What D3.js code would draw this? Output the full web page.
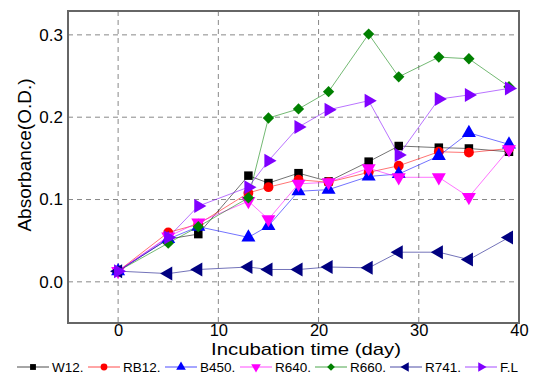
<!DOCTYPE html>
<html>
<head>
<meta charset="utf-8">
<script src="https://cdn.jsdelivr.net/npm/d3@7"></script>
<style>
  body { margin: 0; background: #fff; }
  text { font-family: "Liberation Sans", Arial, sans-serif; }
</style>
</head>
<body>
<svg width="539" height="376"></svg>
<script>
/* data */
var days = [0, 5, 8, 13, 15, 18, 21, 25, 28, 32, 35, 39]

var w12  = [0.013, 0.052, 0.058, 0.129, 0.120, 0.132, 0.122, 0.146, 0.165, 0.163, 0.162, 0.158]
var rb12 = [0.013, 0.060, 0.070, 0.108, 0.115, 0.124, 0.121, 0.133, 0.141, 0.158, 0.157, 0.162]
var b450 = [0.013, 0.052, 0.067, 0.054, 0.068, 0.110, 0.112, 0.128, 0.131, 0.153, 0.181, 0.167]
var r640 = [0.013, 0.055, 0.072, 0.098, 0.076, 0.119, 0.121, 0.138, 0.127, 0.127, 0.103, 0.161]
var r660 = [0.013, 0.047, 0.067, 0.102, 0.199, 0.210, 0.231, 0.301, 0.249, 0.273, 0.271, 0.237]
var r741 = [0.013, 0.010, 0.015, 0.018, 0.015, 0.015, 0.018, 0.017, 0.036, 0.036, 0.027, 0.054]
var fl   = [0.013, 0.054, 0.092, 0.115, 0.147, 0.188, 0.209, 0.220, 0.154, 0.222, 0.227, 0.235]

var names  = ["W12.", "RB12.", "B450.", "R640.", "R660.", "R741.", "F.L"]
var values = [w12, rb12, b450, r640, r660, r741, fl]
var colors = ["#000000", "#ff0000", "#0000ff", "#ff00ff", "#008000", "#000080", "#8000ff"]
var shapes = ["square", "circle", "up", "down", "diamond", "left", "right"]

var xTicks = [0, 10, 20, 30, 40]
var yTicks = [0.0, 0.1, 0.2, 0.3]

/* layout */
var left = 68, top_ = 11, right = 519, bottom = 323

var x = d3.scaleLinear().domain([-5, 40]).range([left, right])
var y = d3.scaleLinear().domain([-0.05, 0.329]).range([bottom, top_])

var svg = d3.select("svg")

/* grid */
svg.append("g")
    .selectAll("line")
    .data(xTicks)
    .enter()
    .append("line")
    .attr("x1", function(d){ return x(d) })
    .attr("x2", function(d){ return x(d) })
    .attr("y1", top_)
    .attr("y2", bottom)
    .attr("stroke", "#888")
    .attr("stroke-dasharray", "5,4")

svg.append("g")
    .selectAll("line")
    .data(yTicks)
    .enter()
    .append("line")
    .attr("x1", left)
    .attr("x2", right)
    .attr("y1", function(d){ return y(d) })
    .attr("y2", function(d){ return y(d) })
    .attr("stroke", "#888")
    .attr("stroke-dasharray", "5,4")

/* axes (labels only, no tick marks) */
var xAxis = svg.append("g")
    .attr("transform", "translate(0," + bottom + ")")
    .call(d3.axisBottom(x).tickValues(xTicks).tickSize(0).tickPadding(1).tickFormat(d3.format("d")))
xAxis.select(".domain").remove()
xAxis.selectAll("text").attr("font-size", 16.5).attr("fill", "#000")
    .attr("font-family", "Liberation Sans, Arial, sans-serif")

var yAxis = svg.append("g")
    .attr("transform", "translate(" + left + ",0)")
    .call(d3.axisLeft(y).tickValues(yTicks).tickSize(0).tickPadding(5).tickFormat(d3.format(".1f")))
yAxis.select(".domain").remove()
yAxis.selectAll("text").attr("font-size", 17).attr("fill", "#000")
    .attr("font-family", "Liberation Sans, Arial, sans-serif")

/* frame */
svg.append("rect")
    .attr("x", left)
    .attr("y", top_)
    .attr("width", right - left)
    .attr("height", bottom - top_)
    .attr("fill", "none")
    .attr("stroke", "#666")
    .attr("stroke-width", 2)

/* titles */
svg.append("text")
    .text("Incubation time (day)")
    .attr("x", 306)
    .attr("y", 355)
    .attr("text-anchor", "middle")
    .attr("font-size", 17)
    .attr("textLength", 190)
    .attr("lengthAdjust", "spacingAndGlyphs")

svg.append("text")
    .text("Absorbance(O.D.)")
    .attr("transform", "translate(31,155) rotate(-90)")
    .attr("text-anchor", "middle")
    .attr("font-size", 19)

/* markers */
function marker(sel, shape, color, s) {
    var sym
    var rot = 0
    if (shape == "square") sym = d3.symbol().type(d3.symbolSquare).size(s * 0.85)
    else if (shape == "circle") sym = d3.symbol().type(d3.symbolCircle).size(s * 0.9)
    else if (shape == "diamond") { sym = d3.symbol().type(d3.symbolSquare).size(s * 0.75); rot = 45 }
    else {
        sym = d3.symbol().type(d3.symbolTriangle).size(s)
        if (shape == "down") rot = 180
        if (shape == "left") rot = -90
        if (shape == "right") rot = 90
    }
    sel.append("path")
        .attr("d", sym)
        .attr("transform", function(d){ return "translate(" + d[0] + "," + d[1] + ") rotate(" + rot + ")" })
        .attr("fill", color)
}

var line = d3.line()
    .x(function(d, i){ return x(days[i]) })
    .y(function(d){ return y(d) })

for (var k = 0; k < names.length; k++) {
    var g = svg.append("g")
    g.append("path")
        .datum(values[k])
        .attr("d", line)
        .attr("fill", "none")
        .attr("stroke", colors[k])
        .attr("stroke-opacity", 0.55)
        .attr("stroke-width", 1)

    var pts = g.selectAll("g.pt")
        .data(values[k].map(function(v, i){ return [x(days[i]), y(v)] }))
        .enter()
        .append("g")
    marker(pts, shapes[k], colors[k], 85)
}

/* legend */
var legendX = [17, 88, 165, 240, 315, 390, 465]
var legendY = 367
for (var k = 0; k < names.length; k++) {
    var lg = svg.append("g")
    lg.append("line")
        .attr("x1", legendX[k])
        .attr("x2", legendX[k] + 32)
        .attr("y1", legendY)
        .attr("y2", legendY)
        .attr("stroke", colors[k])
        .attr("stroke-opacity", 0.7)
    var mg = lg.selectAll("g").data([[legendX[k] + 16, legendY]]).enter().append("g")
    marker(mg, shapes[k], colors[k], 40)
    lg.append("text")
        .text(names[k])
        .attr("x", legendX[k] + 35)
        .attr("y", legendY + 5)
        .attr("font-size", 13.5)
}
</script>
</body>
</html>
